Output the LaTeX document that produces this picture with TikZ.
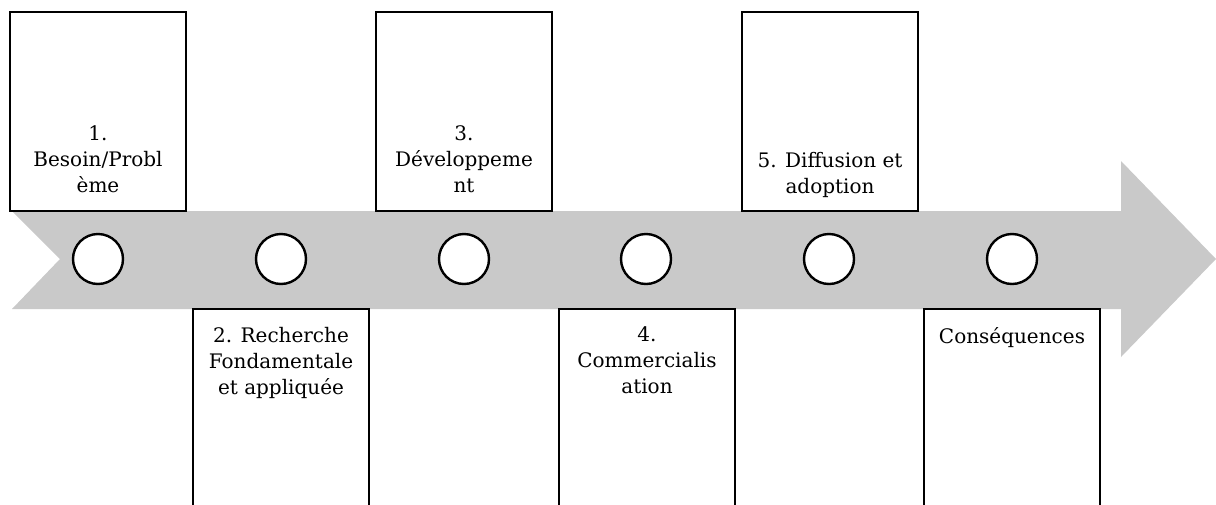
\documentclass[tikz,border=0pt]{standalone}
\usepackage{fontspec}
\setmainfont{DejaVu Serif}
\definecolor{bandgray}{HTML}{C9C9C9}
\tikzset{
  stagebox/.style={draw=black, line width=2.4pt, fill=white, minimum width=176pt, inner sep=0pt},
  dot/.style={circle, draw=black, line width=2.4pt, fill=white, minimum size=50pt, inner sep=0pt},
  lbl/.style={align=center, inner sep=0pt, font=\fontsize{20}{26}\selectfont}
}
\begin{document}
\begin{tikzpicture}[x=1pt,y=-1pt]
\useasboundingbox (0,0) rectangle (1216,504);
\clip (0,0) rectangle (1216,504);
% band arrow
\fill[bandgray] (12,211) -- (1121,211) -- (1121,161) -- (1216,259) -- (1121,357) -- (1121,309) -- (12,309) -- (60,259) -- cycle;
% top boxes
\node[stagebox, minimum height=199pt] (b1) at (98,111.5) {};
\node[stagebox, minimum height=199pt] (b3) at (464,111.5) {};
\node[stagebox, minimum height=199pt] (b5) at (830,111.5) {};
% bottom boxes
\node[stagebox, minimum height=220pt] (b2) at (281,419) {};
\node[stagebox, minimum height=220pt] (b4) at (647,419) {};
\node[stagebox, minimum height=220pt] (b6) at (1012,419) {};
% circles
\foreach \i/\x in {1/98,2/281,3/464,4/646,5/829,6/1012}
  \node[dot] (c\i) at (\x,259) {};
% labels
\node[lbl, anchor=south] (t1) at ([yshift=19pt]b1.south) {1.\\Besoin/Probl\\ème};
\node[lbl, anchor=south] (t3) at ([yshift=19pt]b3.south) {3.\\Développeme\\nt};
\node[lbl, anchor=south] (t5) at ([yshift=14pt]b5.south) {5. Diffusion et\\adoption};
\node[lbl, anchor=north] (t2) at ([yshift=-19pt]b2.north) {2. Recherche\\Fondamentale\\et appliquée};
\node[lbl, anchor=north] (t4) at ([yshift=-19pt]b4.north) {4.\\Commercialis\\ation};
\node[lbl, anchor=north] (t6) at ([yshift=-19pt]b6.north) {Conséquences};
\end{tikzpicture}
\end{document}
